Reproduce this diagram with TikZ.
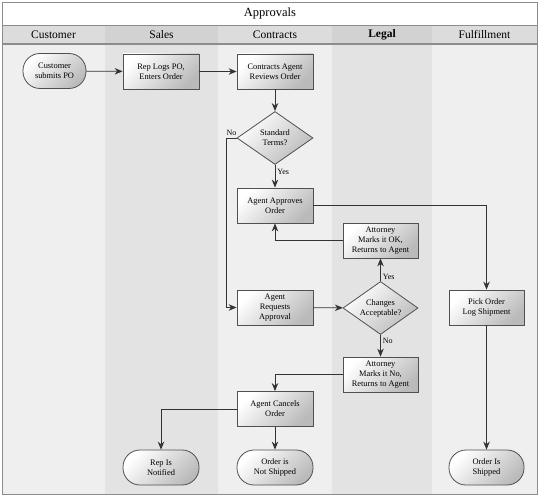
\documentclass[tikz,border=0pt]{standalone}
\usepackage{fontspec}
\setmainfont{Liberation Serif}
\usetikzlibrary{arrows.meta,shapes.geometric}
\definecolor{laneA}{HTML}{EFEFEF}
\definecolor{laneB}{HTML}{E3E3E3}
\definecolor{headA}{HTML}{DCDCDC}
\definecolor{headB}{HTML}{D2D2D2}
\definecolor{rule}{HTML}{8C8C8C}
\definecolor{edge}{HTML}{505050}
\begin{document}
\begin{tikzpicture}[x=1pt,y=-1pt,
  task/.style={draw=edge,line width=0.8pt,left color=white,right color=black!27,shading angle=45,minimum width=76pt,minimum height=35pt,align=center,font=\fontsize{8.4}{10}\selectfont,inner sep=1pt},
  term/.style={task,rounded corners=17pt},
  choice/.style={task,diamond,minimum width=76pt,minimum height=53pt,aspect=1.4,inner sep=0pt},
  flow/.style={-{Stealth[length=8pt,width=6.5pt]},line width=0.8pt,draw=black!80},
  lbl/.style={font=\fontsize{8}{9}\selectfont,inner sep=2pt},
  lanehead/.style={font=\fontsize{11.5}{13}\selectfont}]
\useasboundingbox (0,0) rectangle (540,497);
\fill[white] (0,0) rectangle (540,497);
\foreach \xa/\xb/\body/\head/\name in {2/105/laneA/headA/Customer,105/218/laneB/headB/Sales,218/332/laneA/headA/Contracts,332/432/laneB/headB/\textbf{Legal},432/537/laneA/headA/Fulfillment}{
  \fill[\body] (\xa,44) rectangle (\xb,494);
  \fill[\head] (\xa,25) rectangle (\xb,44);
  \node[lanehead] at ({(\xa+\xb)/2},34.5) {\name};
  \draw[rule,line width=0.8pt] (\xb,25) -- (\xb,494);
}
\draw[rule,line width=0.8pt] (2,2) rectangle (537,494);
\draw[rule,line width=0.8pt] (2,25) -- (537,25);
\draw[rule,line width=1.6pt] (2,44) -- (537,44);
\node[font=\fontsize{12.5}{14}\selectfont] (title) at (270,13.5) {Approvals};

\node[term,minimum width=63pt] (submit) at (54.5,71) {Customer\\submits PO};
\node[task] (logpo) at (161,71.5) {Rep Logs PO,\\Enters Order};
\node[task] (review) at (275,71.5) {Contracts Agent\\Reviews Order};
\node[choice] (terms) at (275,138) {Standard\\Terms?};
\node[task] (approve) at (275,205.5) {Agent Approves\\Order};
\node[task,minimum width=75pt] (attok) at (380.5,240.5) {Attorney\\Marks it OK,\\Returns to Agent};
\node[task] (request) at (275,307.5) {Agent\\Requests\\Approval};
\node[choice,minimum width=75pt] (accept) at (380.5,308) {Changes\\Acceptable?};
\node[task,minimum width=75pt] (attno) at (380.5,374.5) {Attorney\\Marks it No,\\Returns to Agent};
\node[task] (cancel) at (275,409) {Agent Cancels\\Order};
\node[term] (notified) at (161,467.5) {Rep Is\\Notified};
\node[term] (notship) at (275,467.5) {Order is\\Not Shipped};
\node[task,minimum width=75pt] (pick) at (486.5,307.5) {Pick Order\\Log Shipment};
\node[term,minimum width=75pt] (shipped) at (486.5,467.5) {Order Is\\Shipped};

\draw[flow] (submit) -- (logpo);
\draw[flow] (logpo) -- (review);
\draw[flow] (review) -- (terms);
\draw[flow] (terms) -- node[lbl,pos=0.33,right] {Yes} (approve);
\draw[flow] (terms.west) -- ++(-10,0) node[lbl,midway,above] {No} |- (request.west);
\draw[flow] (approve.east) -| (pick.north);
\draw[flow] (attok.west) -| (approve.south);
\draw[flow] (request) -- (accept);
\draw[flow] (accept) -- node[lbl,pos=0.2,right] {Yes} (attok);
\draw[flow] (accept) -- node[lbl,pos=0.27,right] {No} (attno);
\draw[flow] (attno.west) -| (cancel.north);
\draw[flow] (cancel) -- (notship);
\draw[flow] (cancel.west) -| (notified.north);
\draw[flow] (pick) -- (shipped);
\end{tikzpicture}
\end{document}
